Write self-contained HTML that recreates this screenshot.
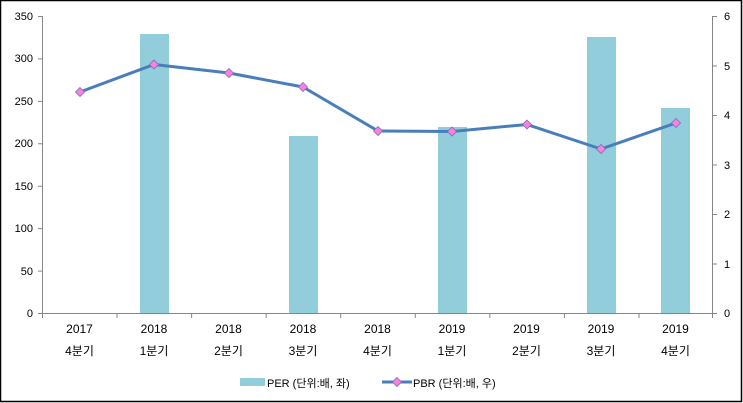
<!DOCTYPE html>
<html><head><meta charset="utf-8"><style>
html,body{margin:0;padding:0;background:#fff}
svg{display:block;font-family:"Liberation Sans","Noto Sans CJK KR","NanumGothic",sans-serif}
</style></head><body>
<svg width="743" height="403" viewBox="0 0 743 403" xmlns="http://www.w3.org/2000/svg">
<rect x="0.5" y="0.5" width="741" height="401" fill="#fff" stroke="#000" stroke-width="1.5"/>
<g fill="#92CDDC">
<rect x="140" y="34" width="29" height="279"/>
<rect x="289" y="136" width="29" height="177"/>
<rect x="438" y="127" width="29" height="186"/>
<rect x="587" y="37" width="29" height="276"/>
<rect x="661" y="108" width="29" height="205"/>
</g>
<g stroke="#868686" stroke-width="1" fill="none">
<line x1="42.5" y1="16" x2="42.5" y2="313"/>
<line x1="712.5" y1="16" x2="712.5" y2="313"/>
<line x1="42" y1="313.5" x2="713" y2="313.5"/>
<path d="M38 16.5H42M38 58.9H42M38 101.4H42M38 143.8H42M38 186.2H42M38 228.6H42M38 271.1H42M38 313.5H42"/>
<path d="M713 16.5H717M713 66H717M713 115.5H717M713 165H717M713 214.5H717M713 264H717M713 313.5H717"/>
<path d="M42.5 313V318M117 313V318M191.6 313V318M266.2 313V318M340.7 313V318M415.3 313V318M489.8 313V318M564.4 313V318M639 313V318M712.5 313V318"/>
</g>
<g font-size="11" fill="#000" text-anchor="end">
<text x="33" y="20">350</text><text x="33" y="62">300</text><text x="33" y="105">250</text>
<text x="33" y="147">200</text><text x="33" y="190">150</text><text x="33" y="232">100</text>
<text x="33" y="275">50</text><text x="33" y="317">0</text>
</g>
<g font-size="11" fill="#000">
<text x="724" y="20">6</text><text x="724" y="70">5</text><text x="724" y="119">4</text>
<text x="724" y="169">3</text><text x="724" y="218">2</text><text x="724" y="268">1</text><text x="724" y="317">0</text>
</g>
<g font-size="12" fill="#000" text-anchor="middle">
<text x="79.5" y="333">2017</text><text x="79.5" y="355">4분기</text>
<text x="154" y="333">2018</text><text x="154" y="355">1분기</text>
<text x="228.5" y="333">2018</text><text x="228.5" y="355">2분기</text>
<text x="303" y="333">2018</text><text x="303" y="355">3분기</text>
<text x="377.5" y="333">2018</text><text x="377.5" y="355">4분기</text>
<text x="452" y="333">2019</text><text x="452" y="355">1분기</text>
<text x="526.5" y="333">2019</text><text x="526.5" y="355">2분기</text>
<text x="601" y="333">2019</text><text x="601" y="355">3분기</text>
<text x="675.5" y="333">2019</text><text x="675.5" y="355">4분기</text>
</g>
<polyline fill="none" stroke="#4A7EBB" stroke-width="3" stroke-linejoin="round" points="80,92 154,64.5 229,73 303,87 378,131 452,131.5 527,124.5 601,149 676,123"/>
<g fill="#FF7FDF" stroke="#7A6FB8" stroke-width="0.8">
<path d="M80,87.5 84.5,92 80,96.5 75.5,92Z"/>
<path d="M154,60 158.5,64.5 154,69 149.5,64.5Z"/>
<path d="M229,68.5 233.5,73 229,77.5 224.5,73Z"/>
<path d="M303,82.5 307.5,87 303,91.5 298.5,87Z"/>
<path d="M378,126.5 382.5,131 378,135.5 373.5,131Z"/>
<path d="M452,127 456.5,131.5 452,136 447.5,131.5Z"/>
<path d="M527,120 531.5,124.5 527,129 522.5,124.5Z"/>
<path d="M601,144.5 605.5,149 601,153.5 596.5,149Z"/>
<path d="M676,118.5 680.5,123 676,127.5 671.5,123Z"/>
</g>
<rect x="240" y="378" width="25" height="8" fill="#92CDDC"/>
<text x="267" y="387" font-size="11" fill="#000">PER (단위:배, 좌)</text>
<line x1="382" y1="382" x2="412" y2="382" stroke="#4A7EBB" stroke-width="3"/>
<path d="M397,377.5 401.5,382 397,386.5 392.5,382Z" fill="#FF7FDF" stroke="#7A6FB8" stroke-width="0.8"/>
<text x="413" y="387" font-size="11" fill="#000">PBR (단위:배, 우)</text>
</svg>
</body></html>
